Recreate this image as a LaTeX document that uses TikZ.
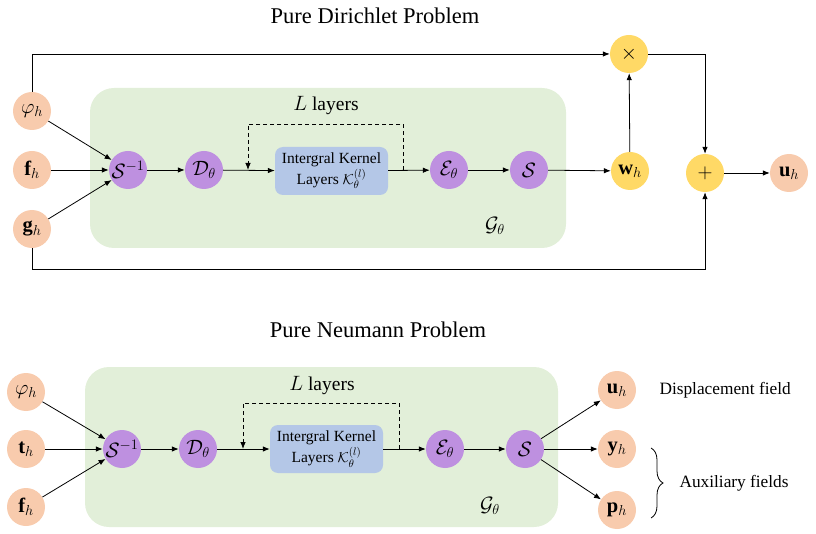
\documentclass[tikz,border=0pt]{standalone}
\usepackage{fontspec}
\setmainfont{Liberation Serif}
\usetikzlibrary{arrows.meta,decorations.pathreplacing}
\definecolor{peach}{HTML}{F8CBAD}
\definecolor{purp}{HTML}{BE90E0}
\definecolor{yel}{HTML}{FFD966}
\definecolor{grn}{HTML}{E2EFD9}
\definecolor{blu}{HTML}{B4C7E7}
\tikzset{
  inp/.style={circle,fill=peach,minimum size=38pt,inner sep=0pt,font=\fontsize{20.5}{20.5}\selectfont},
  op/.style={circle,fill=purp,minimum size=38pt,inner sep=0pt,font=\fontsize{20.5}{20.5}\selectfont},
  yop/.style={circle,fill=yel,minimum size=38pt,inner sep=0pt,font=\fontsize{20.5}{20.5}\selectfont},
  kbox/.style={fill=blu,rounded corners=8pt,minimum width=113pt,minimum height=48pt,inner sep=0pt,align=center,font=\fontsize{15.5}{21}\selectfont},
  gbox/.style={fill=grn,rounded corners=24pt},
  arr/.style={-{Latex[length=7pt,width=5.5pt]},line width=0.8pt},
  ln/.style={line width=0.8pt},
  darr/.style={-{Latex[length=7pt,width=5.5pt]},line width=0.8pt,dash pattern=on 4pt off 3pt},
  ttl/.style={font=\fontsize{22.5}{22.5}\selectfont},
  lbl/.style={font=\fontsize{17.3}{17.3}\selectfont},
  llbl/.style={font=\fontsize{19.5}{19.5}\selectfont},
}
\begin{document}
\begin{tikzpicture}[x=1pt,y=-1pt]
\useasboundingbox (0,0) rectangle (816,534);
% ---------- Top: Dirichlet ----------
\node[ttl] (t1) at (375,16) {Pure Dirichlet Problem};
\fill[gbox] (90,88) rectangle (566,248);
\node[font=\fontsize{22}{22}\selectfont] (g1) at (495,226) {$\mathcal{G}_\theta$};
\node[inp] (phi1) at (32,111) {$\varphi_h$};
\node[inp] (f1) at (32,170) {$\mathbf{f}_h$};
\node[inp] (g1in) at (32,229) {$\mathbf{g}_h$};
\node[op] (si1) at (128,170) {$\mathcal{S}^{-1}$};
\node[op] (d1) at (204,170) {$\mathcal{D}_\theta$};
\node[kbox] (k1) at (331.5,171) {Intergral Kernel\\Layers $\mathcal{K}_\theta^{(l)}$};
\node[op] (e1) at (449,170) {$\mathcal{E}_\theta$};
\node[op] (s1) at (529,170) {$\mathcal{S}$};
\node[yop] (w1) at (630,171) {$\mathbf{w}_h$};
\node[yop] (x1) at (629,54) {$\times$};
\node[yop] (p1) at (705,173) {$+$};
\node[inp] (u1) at (789,173) {$\mathbf{u}_h$};
\node[llbl] (L1) at (326,106) {$L$ layers};
\draw[arr] (phi1) -- (si1);
\draw[arr] (f1) -- (si1);
\draw[arr] (g1in) -- (si1);
\draw[arr] (si1) -- (d1);
\draw[arr] (d1) -- (k1);
\draw[arr] (k1) -- (e1);
\draw[arr] (e1) -- (s1);
\draw[arr] (s1) -- (w1);
\draw[arr] (w1) -- (x1);
\coordinate (dl1a) at (403,170);
\coordinate (dl1b) at (248,170);
\draw[darr] (dl1a) -- (403,124) -- (248,124) -- (dl1b);
\draw[arr] (phi1.north) |- (x1);
\draw[arr] (x1) -| (p1);
\draw[arr] (g1in.south) -- (32,269) -| (p1);
\draw[arr] (p1) -- (u1);
% ---------- Bottom: Neumann ----------
\node[ttl] (t2) at (378,330) {Pure Neumann Problem};
\fill[gbox] (85,367) rectangle (558,527);
\node[font=\fontsize{22}{22}\selectfont] (g2) at (490,506) {$\mathcal{G}_\theta$};
\node[inp] (phi2) at (26,392) {$\varphi_h$};
\node[inp] (t2in) at (26,449) {$\mathbf{t}_h$};
\node[inp] (f2) at (26,507) {$\mathbf{f}_h$};
\node[op] (si2) at (122,449) {$\mathcal{S}^{-1}$};
\node[op] (d2) at (198,449) {$\mathcal{D}_\theta$};
\node[kbox] (k2) at (326.5,449) {Intergral Kernel\\Layers $\mathcal{K}_\theta^{(l)}$};
\node[op] (e2) at (445,449) {$\mathcal{E}_\theta$};
\node[op] (s2) at (525,449) {$\mathcal{S}$};
\node[inp] (u2) at (617,390) {$\mathbf{u}_h$};
\node[inp] (y2) at (617,449) {$\mathbf{y}_h$};
\node[inp] (pp2) at (617,510) {$\mathbf{p}_h$};
\node[llbl] (L2) at (322,386) {$L$ layers};
\draw[arr] (phi2) -- (si2);
\draw[arr] (t2in) -- (si2);
\draw[arr] (f2) -- (si2);
\draw[arr] (si2) -- (d2);
\draw[arr] (d2) -- (k2);
\draw[arr] (k2) -- (e2);
\draw[arr] (e2) -- (s2);
\draw[arr] (s2) -- (u2);
\draw[arr] (s2) -- (y2);
\draw[arr] (s2) -- (pp2);
\coordinate (dl2a) at (399,449);
\coordinate (dl2b) at (243,449);
\draw[darr] (dl2a) -- (399,403) -- (243,403) -- (dl2b);
\node[lbl,anchor=west] (disp) at (656,390) {Displacement field};
\coordinate (bt) at (651,448);
\coordinate (bb) at (651,518);
\draw[ln,decorate,decoration={brace,amplitude=12pt}] (bt) -- (bb);
\node[lbl,anchor=west] (aux) at (676,483) {Auxiliary fields};
\end{tikzpicture}
\end{document}
